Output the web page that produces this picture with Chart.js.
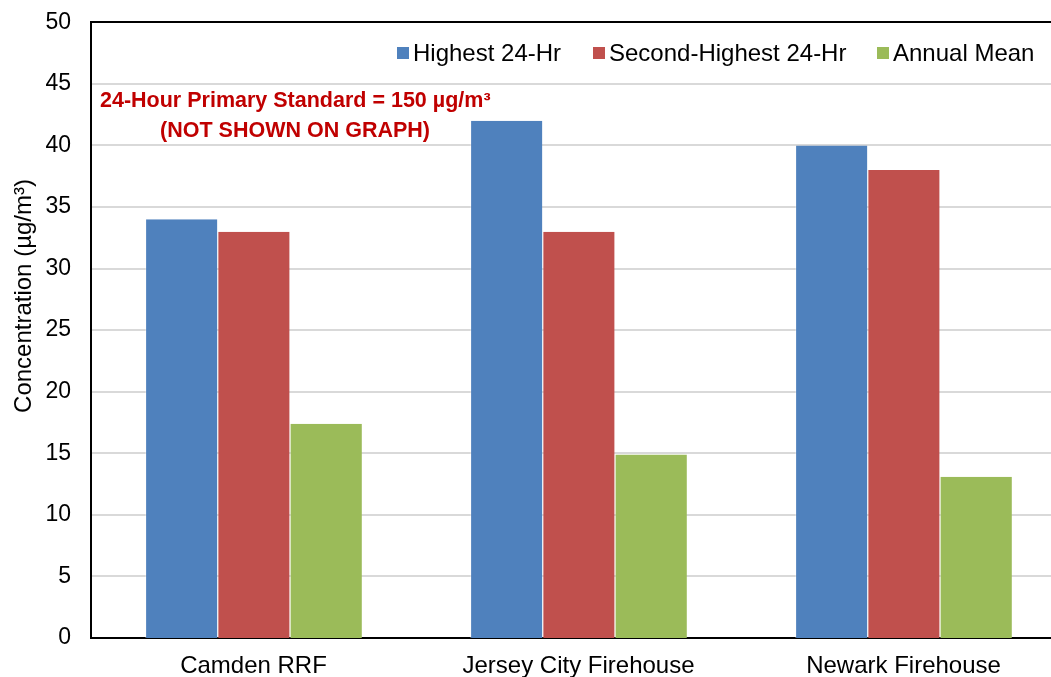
<!DOCTYPE html>
<html>
<head>
<meta charset="utf-8">
<script src="https://cdn.jsdelivr.net/npm/chart.js@4"></script>
<style>
  html, body { margin: 0; padding: 0; background: #fff; overflow: hidden; }
  #wrap { width: 1080px; height: 677px; }
</style>
</head>
<body>
<div id="wrap"><canvas id="c"></canvas></div>
<script>
// PM10 concentrations by monitoring site
const sites = ['Camden RRF', 'Jersey City Firehouse', 'Newark Firehouse'];
const highest24 = [34, 42, 40];
const secondHighest24 = [33, 33, 38];
const annualMean = [17.4, 14.9, 13.1];
const seriesNames = ['Highest 24-Hr', 'Second-Highest 24-Hr', 'Annual Mean'];
const seriesColors = ['#4F81BD', '#C0504D', '#9BBB59'];
const yTicks = [0, 5, 10, 15, 20, 25, 30, 35, 40, 45, 50];
const axisTitle = 'Concentration (µg/m³)';
const noteLines = ['24-Hour Primary Standard = 150 µg/m³', '(NOT SHOWN ON GRAPH)'];

const FONT = '"Liberation Sans", Arial, sans-serif';

// Legend, axis title and the standard note drawn over the plot
const overlay = {
  id: 'overlay',
  afterDraw(chart) {
    const ctx = chart.ctx;
    ctx.save();
    // y-axis title
    ctx.translate(24, 296);
    ctx.rotate(-Math.PI / 2);
    ctx.fillStyle = '#000';
    ctx.font = '24px ' + FONT;
    ctx.textAlign = 'center';
    ctx.textBaseline = 'middle';
    ctx.fillText(axisTitle, 0, 0);
    ctx.restore();

    // legend
    ctx.save();
    ctx.font = '24px ' + FONT;
    ctx.textBaseline = 'middle';
    ctx.textAlign = 'left';
    const legendX = [397, 593, 877];
    chart.data.datasets.forEach((ds, i) => {
      ctx.fillStyle = ds.backgroundColor;
      ctx.fillRect(legendX[i], 47, 12, 12);
      ctx.fillStyle = '#000';
      ctx.fillText(ds.label, legendX[i] + 16, 54);
    });
    ctx.restore();

    // note
    ctx.save();
    ctx.font = 'bold 21.5px ' + FONT;
    ctx.fillStyle = '#C00000';
    ctx.textBaseline = 'middle';
    ctx.textAlign = 'left';
    ctx.fillText(noteLines[0], 100, 101);
    ctx.textAlign = 'center';
    ctx.fillText(noteLines[1], 295, 131);
    ctx.restore();
  }
};

new Chart(document.getElementById('c'), {
  type: 'bar',
  data: {
    labels: sites,
    datasets: [
      { label: seriesNames[0], data: highest24, backgroundColor: seriesColors[0] },
      { label: seriesNames[1], data: secondHighest24, backgroundColor: seriesColors[1] },
      { label: seriesNames[2], data: annualMean, backgroundColor: seriesColors[2] }
    ]
  },
  options: {
    responsive: true,
    maintainAspectRatio: false,
    animation: false,
    layout: { padding: { top: 21, right: 14, left: 0, bottom: 0 } },
    datasets: {
      bar: {
        barPercentage: 1.0,
        categoryPercentage: 0.667,
        borderWidth: { left: 1, right: 0, top: 0, bottom: 0 },
        borderColor: 'rgba(255,255,255,0.35)',
        borderSkipped: false
      }
    },
    plugins: {
      legend: { display: false },
      tooltip: { enabled: false }
    },
    scales: {
      x: {
        grid: { display: false, drawTicks: false },
        border: { display: true, color: '#000', width: 2 },
        ticks: { color: '#000', font: { family: FONT, size: 24 }, padding: 14, maxRotation: 0 },
        afterFit(s) { s.height = 39; }
      },
      y: {
        min: 0,
        max: 50,
        afterBuildTicks(s) { s.ticks = yTicks.map(v => ({ value: v })); },
        grid: {
          drawTicks: false,
          color: ctx => (ctx.tick && ctx.tick.value === 50 ? '#000' : '#D9D9D9'),
          lineWidth: ctx => (ctx.tick && ctx.tick.value === 0 ? 0 : 2)
        },
        border: { display: true, color: '#000', width: 2 },
        ticks: { color: '#000', font: { family: FONT, size: 23, lineHeight: 0.2 }, padding: 20 },
        afterFit(s) { s.width = 91; }
      }
    }
  },
  plugins: [overlay]
});
</script>
</body>
</html>
